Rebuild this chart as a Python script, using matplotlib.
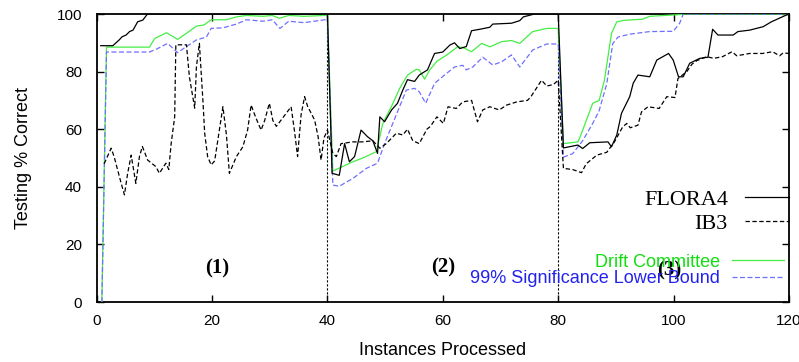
import matplotlib
matplotlib.use("Agg")
import matplotlib.pyplot as plt

# ---------------- data ----------------
flora_x = [0.7, 2.8, 3.9, 4.4, 5.1, 5.7, 6.3, 7.1, 8.0, 8.8, 40.0,
           40.8, 42.05, 42.97, 43.8, 44.7, 45.82, 46.94, 47.86, 48.68, 49.08, 49.9,
           51.12, 52.14, 53.06, 53.87, 55.1, 55.91, 57.34, 58.56, 59.99, 61.21, 62.02,
           62.94, 64.06, 64.98, 66.4, 68.14, 68.65, 71.9, 73.33, 73.95, 75.88, 80.0,
           80.9, 83.4, 84.24, 85.46, 88.62, 89.23, 90.15, 90.96, 92.39, 93.0, 93.82,
           95.86, 97.08, 99.12, 99.93, 100.85, 101.66, 102.79, 104.52, 105.95, 106.76,
           107.68, 110.33, 111.14, 113.18, 115.52, 116.95, 119.6, 120.0]
flora_y = [89, 89, 91, 92.1, 92.7, 93.9, 94.4, 97.3, 97.9, 100, 100,
           44.7, 44, 55, 48.7, 50.5, 59.7, 57.4, 56, 51.6, 64.3, 62.6,
           66.7, 69, 73.6, 77.2, 76.6, 78.8, 80.6, 86.3, 86.8, 89.2, 90,
           88, 88.7, 94.2, 94.7, 95.4, 96.5, 96.8, 97.7, 99, 100, 100,
           53.5, 54.5, 53.3, 55.3, 55.6, 53.9, 58, 65.5, 71.3, 76, 78.8,
           78.2, 84, 86.3, 84, 78.2, 78.2, 82.9, 84.6, 85, 94.7,
           92.7, 92.7, 93.9, 94.4, 95.6, 97.3, 99.7, 100]

ib3_x = [1.29, 2.51, 3.02, 3.64, 4.25, 4.81, 5.37, 5.98, 6.39, 6.79, 7.41, 7.92, 8.83,
         10.26, 10.87, 11.99, 12.5, 12.91, 13.52, 13.72, 15.56, 16.07, 16.99, 17.29,
         17.8, 18.41, 18.72, 19.23, 19.84, 20.45, 21.88, 22.49, 23.0, 24.22, 25.34,
         26.16, 26.77, 27.58, 28.5, 29.11, 29.93, 30.54, 31.15, 32.27, 33.7, 34.31,
         34.82, 35.43, 36.04, 36.55, 37.77, 38.38, 38.89, 39.4, 40.0,
         40.93, 41.54, 42.36, 44.4, 46.13, 47.86, 49.08, 50.2, 51.93, 53.06, 53.87,
         54.79, 55.91, 57.23, 57.85, 58.97, 60.09, 60.9, 62.33, 63.45, 64.98, 66.0,
         66.92, 68.14, 69.77, 71.09, 72.83, 74.66, 75.27, 77.11, 78.02, 79.14, 80.0,
         80.9, 82.5, 84.04, 84.85, 86.69, 88.42, 89.74, 91.17, 91.88, 92.49, 93.82,
         94.43, 95.55, 97.49, 98.81, 100.24, 100.75, 102.28, 103.19, 104.01, 105.74,
         106.96, 108.49, 110.12, 110.94, 113.18, 115.42, 117.15, 118.37, 118.99, 120.0]
ib3_y = [48, 53.4, 50.5, 45.8, 41.2, 37.2, 44.7, 51, 46, 41.2, 50.5, 54, 49.3,
         47, 44.7, 48.2, 46, 55, 64.3, 89.3, 89.3, 78.2, 67.3, 81.7,
         89.8, 70, 58.6, 50.5, 47.6, 49, 67.8, 58, 44.7, 50.5, 53.9,
         59.7, 68.4, 64, 59.7, 63, 69, 63, 61, 64, 67.8, 59,
         50.5, 65, 71.3, 68, 63.2, 57.4, 49.3, 57, 59.7,
         51.6, 50.5, 55, 55.6, 55.6, 56, 53.4, 55, 58.6, 58, 60,
         56, 55, 60, 61, 64.3, 62, 67.8, 67.2, 69.5, 70, 62.6,
         66.7, 67.8, 66.7, 68.4, 69.5, 70, 71.3, 77, 75, 75.5, 77,
         46.4, 46, 44.9, 48, 51, 52, 55.6, 60.8, 62, 60.5, 61.4,
         66, 67.8, 67.2, 71.3, 71, 77.6, 80, 82.6, 83.8, 85.2,
         84.6, 85.2, 86.9, 85.5, 86.3, 86.3, 86.9, 85.5, 86.5, 86.3]

drift_x = [0.9, 1.7, 9.14, 10.06, 12.09, 14.03, 15.56, 17.29, 18.62, 19.84, 22.49,
           24.22, 25.95, 28.8, 30.44, 31.66, 33.29, 35.94, 39.5, 40.0,
           40.93, 42.05, 44.4, 46.13, 48.47, 49.59, 51.12, 52.55, 53.87, 55.4, 55.91,
           56.83, 57.74, 58.97, 60.7, 62.53, 63.45, 64.98, 66.71, 68.14, 70.18, 71.9,
           73.33, 75.57, 78.02, 80.0,
           80.9, 83.42, 84.04, 85.97, 87.09, 88.01, 89.23, 90.15, 91.37, 94.63, 95.86,
           101.05, 101.66, 120.0]
drift_y = [0, 88.5, 88.5, 91.5, 93.5, 91.2, 93.3, 95.8, 96.2, 98, 98,
           99, 99.5, 99.2, 99.5, 98.5, 99.5, 99.2, 99.5, 99.5,
           45.5, 46.5, 48.7, 50, 52.2, 62, 68, 74.3, 78.8, 80.8, 80.6,
           77.4, 80.6, 83.6, 85.8, 88.6, 88.4, 86.9, 89.8, 88.6, 90.4, 90.8,
           89.8, 93.9, 95, 95,
           55, 55.6, 58.6, 69, 70, 77, 93.3, 97.3, 97.8, 98.2, 99.2,
           99.8, 100, 100]

lower_x = [0.9, 1.7, 9.14, 10.36, 12.3, 14.03, 15.56, 17.29, 19.02, 19.84, 21.88,
           24.22, 25.95, 28.8, 30.44, 31.76, 33.29, 35.94, 39.5, 40.0,
           40.93, 42.05, 44.4, 46.74, 48.68, 49.9, 51.93, 53.67, 55.1, 55.91, 57.03,
           58.56, 60.29, 62.02, 63.45, 64.06, 65.18, 66.92, 68.65, 70.18, 71.9, 73.33,
           75.57, 78.02, 80.0,
           80.9, 82.5, 84.24, 85.97, 87.09, 88.42, 89.44, 90.36, 92.39, 95.86, 99.93,
           101.05, 101.66, 120.0]
lower_y = [0, 86.8, 86.8, 87.8, 89.8, 86.6, 88.7, 91, 92, 95, 95.2,
           96.5, 98, 97.5, 98, 95, 97.5, 97, 98, 98,
           40.6, 40.2, 42.9, 46.4, 48.2, 55, 65, 73.6, 74.2, 73, 69,
           75.9, 78.8, 81.6, 82.2, 80.6, 81.6, 85, 82.3, 83.4, 85.8, 81.6,
           87.5, 89.6, 89.6,
           50.3, 51.5, 56, 62, 66.4, 75.9, 89.7, 92, 93, 93.9, 94,
           96.8, 100, 100]

drift_points = [40, 80]
phase_labels = ["(1)", "(2)", "(3)"]
phase_x = [20.9, 60.0, 99.3]
phase_y = [11.8, 12.0, 11.0]

x_ticks = [0, 20, 40, 60, 80, 100, 120]
y_ticks = [0, 20, 40, 60, 80, 100]

# ---------------- figure ----------------
plt.rcParams['font.family'] = ['Liberation Sans', 'DejaVu Sans']

fig = plt.figure(figsize=(7.99, 3.62), dpi=100)
ax = fig.add_axes([0.121, 0.1657, 0.8665, 0.7956])

for xv in drift_points:
    ax.axvline(xv, color='black', lw=0.8, ls=(0, (2.0, 1.6)), zorder=1)

l_flora, = ax.plot(flora_x, flora_y, color='black', lw=0.9, label='FLORA4', zorder=4)
l_ib3, = ax.plot(ib3_x, ib3_y, color='black', lw=0.9, ls=(0, (3.5, 2.0)), label='IB3', zorder=4)
l_drift, = ax.plot(drift_x, drift_y, color='#44ee44', lw=0.9, label='Drift Committee', zorder=3)
l_lower, = ax.plot(lower_x, lower_y, color='#6f6fff', lw=0.9, ls=(0, (4.0, 2.0)),
                   label='99% Significance Lower Bound', zorder=3)

ax.set_xlim(0, 120)
ax.set_ylim(0, 100)
ax.set_xticks(x_ticks)
ax.set_yticks(y_ticks)
ax.tick_params(direction='in', top=True, right=True, length=5, width=1.0, labelsize=11)
ax.tick_params(axis='x', pad=8.5)
ax.tick_params(axis='y', pad=10.5)
for s in ax.spines.values():
    s.set_linewidth(1.3)

ax.set_xlabel('Instances Processed', fontsize=13, labelpad=10.5)
ax.set_ylabel('Testing % Correct', fontsize=13, labelpad=17.5)

for lab, px, py in zip(phase_labels, phase_x, phase_y):
    ax.text(px, py, lab, fontsize=15, family='Liberation Serif', fontweight='bold',
            ha='center', va='center', zorder=5)

leg1 = ax.legend(handles=[l_flora, l_ib3], loc='upper right', bbox_to_anchor=(1.0, 0.392),
                 frameon=False, markerfirst=False, borderpad=0, borderaxespad=0,
                 handlelength=2.0, handletextpad=0.75, labelspacing=0.15,
                 prop={'family': 'Liberation Serif', 'size': 16})
ax.add_artist(leg1)
leg2 = ax.legend(handles=[l_drift, l_lower], loc='upper right', bbox_to_anchor=(0.993, 0.168),
                 frameon=False, markerfirst=False, borderpad=0, borderaxespad=0,
                 handlelength=2.9, handletextpad=0.65, labelspacing=-0.02,
                 prop={'family': 'Liberation Sans', 'size': 13},
                 labelcolor=['#11dd11', '#2222ee'])

fig.savefig('out.png', dpi=100)
